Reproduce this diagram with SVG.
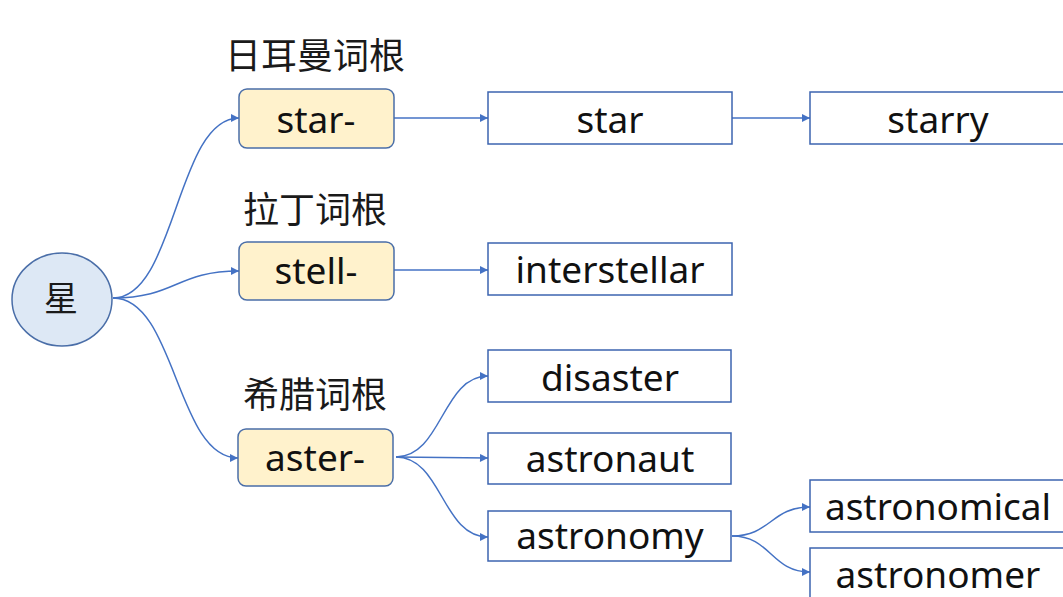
<svg xmlns="http://www.w3.org/2000/svg" width="1063" height="597" viewBox="0 0 1063 597">
<defs>
<style>
.lbl{font-family:"Noto Sans CJK SC","Noto Sans",sans-serif;font-size:36px;fill:#1a1a1a;text-anchor:middle}
.w{font-family:"Noto Sans","Open Sans","Noto Sans CJK SC",sans-serif;font-size:37px;fill:#111;text-anchor:middle}
.root{fill:#dde8f5;stroke:#4a6ea8;stroke-width:1.5}
.rootbox{fill:#fff2cc;stroke:#4a6ea8;stroke-width:1.5}
.word{fill:#fff;stroke:#3c64b0;stroke-width:1.5}
.c{fill:none;stroke:#4472c4;stroke-width:1.5;marker-end:url(#ah)}
</style>
<marker id="ah" viewBox="0 0 10 10" refX="10" refY="5" markerWidth="10" markerHeight="8" markerUnits="userSpaceOnUse" orient="auto">
<path d="M0,0 L10,5 L0,10 z" fill="#4472c4"/>
</marker>
</defs>
<rect width="1063" height="597" fill="#fff"/>
<g id="connectors">
<path class="c" d="M113,298 C176,298 176,118 239,118"/>
<path class="c" d="M113,298 C176,298 176,271 239,271"/>
<path class="c" d="M113,298 C176,298 176,458 238,458"/>
<path class="c" d="M394,118 L488,118"/>
<path class="c" d="M732,118 L810,118"/>
<path class="c" d="M394,270 L488,270"/>
<path class="c" d="M396,457 C442,457 442,376 488,376"/>
<path class="c" d="M396,457 L488,458"/>
<path class="c" d="M396,457 C442,457 442,537 488,537"/>
<path class="c" d="M732,536 C771,536 771,507 810,507"/>
<path class="c" d="M732,536 C771,536 771,572 810,572"/>
</g>
<g id="root-star">
<ellipse class="root" cx="62" cy="299.5" rx="50" ry="46.5"/>
<text class="lbl" x="61" y="311" style="font-size:34px">星</text>
</g>
<g id="label-german"><text class="lbl" x="315" y="69">日耳曼词根</text></g>
<g id="label-latin"><text class="lbl" x="315" y="223">拉丁词根</text></g>
<g id="label-greek"><text class="lbl" x="315" y="408">希腊词根</text></g>
<g id="n-star-prefix">
<rect class="rootbox" x="239" y="89" width="155" height="59" rx="8"/>
<text class="w" x="316" y="133">star-</text>
</g>
<g id="n-stell-prefix">
<rect class="rootbox" x="239" y="242" width="155" height="58" rx="8"/>
<text class="w" x="316" y="284">stell-</text>
</g>
<g id="n-aster-prefix">
<rect class="rootbox" x="238" y="429" width="155" height="57" rx="8"/>
<text class="w" x="315" y="471">aster-</text>
</g>
<g id="n-star">
<rect class="word" x="488" y="92" width="244" height="52"/>
<text class="w" x="610" y="133">star</text>
</g>
<g id="n-starry">
<rect class="word" x="810" y="92" width="258" height="52"/>
<text class="w" x="938" y="133">starry</text>
</g>
<g id="n-interstellar">
<rect class="word" x="488" y="243" width="244" height="52"/>
<text class="w" x="610" y="283">interstellar</text>
</g>
<g id="n-disaster">
<rect class="word" x="488" y="350" width="243" height="52"/>
<text class="w" x="610" y="391">disaster</text>
</g>
<g id="n-astronaut">
<rect class="word" x="488" y="433" width="243" height="51"/>
<text class="w" x="610" y="472">astronaut</text>
</g>
<g id="n-astronomy">
<rect class="word" x="488" y="511" width="243" height="50"/>
<text class="w" x="610" y="549">astronomy</text>
</g>
<g id="n-astronomical">
<rect class="word" x="810" y="480" width="258" height="52"/>
<text class="w" x="938" y="520">astronomical</text>
</g>
<g id="n-astronomer">
<rect class="word" x="810" y="548" width="258" height="60"/>
<text class="w" x="938" y="588">astronomer</text>
</g>
</svg>
